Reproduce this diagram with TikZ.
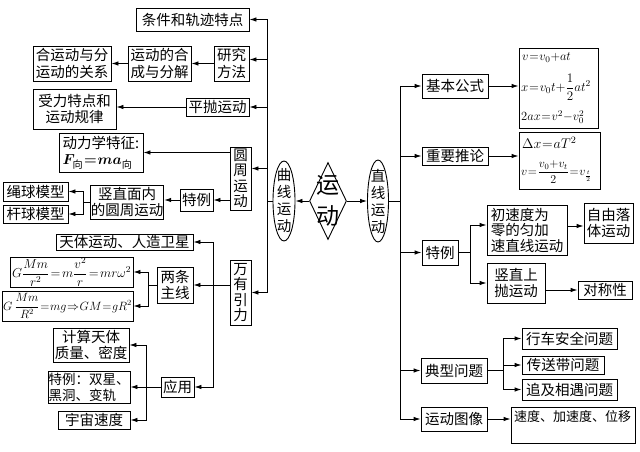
\RequirePackage{fix-cm}
\documentclass[tikz,border=0pt]{standalone}
\usepackage{amsmath,bm}
\usepackage[no-math]{fontspec}
\setmainfont{Noto Sans CJK SC}
\usetikzlibrary{shapes.geometric,arrows.meta}
\newcommand\tightmath{\thickmuskip=1mu\relax\medmuskip=0mu\relax}
\newcommand\fmlA{\fontsize{13}{15}\selectfont\thickmuskip=2mu\relax\medmuskip=1mu\relax}
\newcommand\fmlB{\fontsize{12}{14}\selectfont\thickmuskip=1mu\relax\medmuskip=0mu\relax}
\tikzset{
  box/.style={draw,line width=0.9pt,inner sep=0.5pt,align=center,font=\fontsize{14.5}{16.5}\selectfont},
  vbox/.style={font=\fontsize{14.5}{15.5}\selectfont},
  ln/.style={line width=0.9pt},
  arr/.style={ln,-{Latex[length=7pt,width=4.5pt]}},
  fml/.style={anchor=west,inner sep=0pt,font=\fontsize{12.5}{14}\selectfont\tightmath},
}
\newcommand\bx[7][]{\node[box,minimum width={#5-#3},minimum height={#6-#4},#1] (#2) at ({(#3+#5)/2},{(#4+#6)/2}) {#7};}
\begin{document}
\begin{tikzpicture}[x=1pt,y=-1pt]
\fill[white] (0,0) rectangle (640,452);
\useasboundingbox (0,0) rectangle (640,452);
% left side
\bx{cond}{136}{8}{249}{31}{条件和轨迹特点}
\bx{yjff}{214}{46}{249}{81}{研究\\方法}
\bx{hcfj}{128}{46}{191}{81}{运动的合\\成与分解}
\bx{hyd}{33}{46}{111}{81}{合运动与分\\运动的关系}
\bx{pp}{186}{98}{249}{116}{平抛运动}
\bx{slt}{33}{89}{116}{129}{受力特点和\\运动规律}
\bx[vbox]{yzyd}{230}{147}{251}{210}{圆\\周\\运\\动}
\bx[align=left]{dlx}{59}{133}{143}{172}{动力学特征:\\{\tightmath$\bm{F}_{\text{向}}\bm{=ma}_{\text{向}}$}}
\bx{tl}{180}{189}{213}{211}{特例}
\bx{szm}{91}{185}{163}{219}{竖直面内\\的圆周运动}
\bx{sq}{3}{182}{68}{201}{绳球模型}
\bx{gq}{3}{205}{68}{223}{杆球模型}
\bx[vbox]{wy}{230}{260}{251}{325}{万\\有\\引\\力}
\bx{tt}{56}{234}{193}{250}{天体运动、人造卫星}
\bx[font=\fmlA]{f1}{10}{257}{133}{287}{$G\dfrac{Mm}{r^2}=m\dfrac{v^2}{r}=mr\omega^2$}
\bx[font=\fmlB]{f2}{2}{291}{133}{321}{$G\,\dfrac{Mm}{R^2}=mg\Rightarrow GM=gR^2$}
\bx{ltzx}{157}{267}{193}{303}{两条\\主线}
\bx{yy}{161}{377}{194}{397}{应用}
\bx{js}{53}{328}{129}{362}{计算天体\\质量、密度}
\bx[align=left,font=\fontsize{13.5}{16}\selectfont]{sx}{48}{371}{130}{403}{特例：双星、\\黑洞、变轨}
\bx{yz}{58}{411}{130}{429}{宇宙速度}
% centre
\node[draw,ln,ellipse,minimum width=22pt,minimum height=80pt,inner sep=0pt] (qx) at (284,201) {};
\node[align=center,font=\fontsize{14.5}{17}\selectfont] at (qx) {曲\\线\\运\\动};
\node[draw,ln,diamond,minimum width=37pt,minimum height=77pt,inner sep=0pt] (yd) at (328,201) {};
\node[align=center,font=\fontsize{23}{31}\selectfont] at (yd) {运\\动};
\node[draw,ln,ellipse,minimum width=21pt,minimum height=82pt,inner sep=0pt] (zl) at (378,201) {};
\node[align=center,font=\fontsize{14.5}{17}\selectfont] at (zl) {直\\线\\运\\动};
% right side
\bx{jb}{422}{74}{488}{98}{基本公式}
\bx{fa}{519}{48}{598}{128}{}
\node[fml] at (522,58) {$v=v_0+at$};
\node[fml,font=\fontsize{13}{15}\selectfont\tightmath] at (521,87) {$x=v_0t+\dfrac{1}{2}at^2$};
\node[fml] at (521,117) {$2ax=v^2-v_0^2$};
\bx{zy}{422}{147}{488}{165}{重要推论}
\bx{fb}{519}{132}{600}{189}{}
\node[fml,font=\fontsize{14}{16}\selectfont\tightmath] at (522,143) {$\Delta x=aT^2$};
\node[fml,font=\fontsize{12}{14}\selectfont\tightmath] at (521,172) {$v=\dfrac{v_0+v_t}{2}=v_{\frac{t}{2}}$};
\bx{tr}{422}{240}{458}{265}{特例}
\bx[align=left,font=\fontsize{14.5}{15.5}\selectfont]{csd}{487}{205}{567}{255}{初速度为\\零的匀加\\速直线运动}
\bx{zyl}{584}{203}{633}{243}{自由落\\体运动}
\bx{szs}{487}{263}{545}{303}{竖直上\\抛运动}
\bx{dcx}{578}{281}{632}{299}{对称性}
\bx{dx}{421}{358}{487}{383}{典型问题}
\bx{xc}{522}{328}{617}{349}{行车安全问题}
\bx{csdp}{522}{356}{604}{374}{传送带问题}
\bx{zj}{522}{379}{617}{400}{追及相遇问题}
\bx{tx}{421}{407}{487}{431}{运动图像}
\bx{sd}{511}{407}{635}{443}{}
\node[anchor=north west,inner sep=0pt,font=\fontsize{13}{15}\selectfont] at (514,410) {速度、加速度、位移};
% coordinates
\coordinate (Ltop) at (267,19.5);
\coordinate (Lbot) at (267,292.5);
\coordinate (V) at (213,0);
\coordinate (B1) at (83,0);
\coordinate (B2) at (148,0);
\coordinate (B3) at (146,0);
\coordinate (R) at (400,0);
\coordinate (B4) at (470,0);
\coordinate (B5) at (503,0);
% left connectors
\draw[ln] (Ltop) -- (Lbot);
\draw[arr] (Ltop) -- (cond.east);
\draw[arr] ([yshift=4pt]yjff.east -| Ltop) -- ([yshift=4pt]yjff.east);
\draw[arr] (pp.east -| Ltop) -- (pp.east);
\draw[arr] ([yshift=10pt]yzyd.east -| Ltop) -- ([yshift=10pt]yzyd.east);
\draw[ln] (qx.west) -- (qx.west -| Ltop);
\draw[arr] (Lbot) -- (wy.east);
\draw[arr] (yjff.west) -- (hcfj.east);
\draw[arr] (hcfj.west) -- (hyd.east);
\draw[arr] (pp.west) -- (pp.west -| slt.east);
\draw[arr] (dlx.east -| yzyd.west) -- (dlx.east);
\draw[arr] (tl.east -| yzyd.west) -- (tl.east);
\draw[arr] (tl.west) -- (tl.west -| szm.east);
\draw[ln] (szm.west) -- (szm.west -| B1);
\draw[arr] (szm.west -| B1) |- (sq.east);
\draw[arr] (szm.west -| B1) |- (gq.east);
\draw[arr] (ltzx.east -| wy.west) -- (ltzx.east);
\draw[arr] (ltzx.east -| V) |- (tt.east);
\draw[arr] (ltzx.east -| V) |- (yy.east);
\draw[ln] (ltzx.west) -- (ltzx.west -| B2);
\draw[arr] (ltzx.west -| B2) |- (f1.east);
\draw[arr] (ltzx.west -| B2) |- (f2.east);
\draw[arr] (yy.west) -- (sx.east);
\draw[arr] (yy.west -| B3) |- (js.east);
\draw[arr] (yy.west -| B3) |- (yz.east);
% centre connectors
\draw[arr] (yd.west) -- (qx.east);
\draw[arr] (yd.east) -- (zl.west);
\draw[ln] (zl.east) -- (zl.east -| R);
% right connectors
\draw[ln] (jb.west -| R) -- (tx.west -| R);
\draw[arr] (jb.west -| R) -- (jb.west);
\draw[arr] (zy.west -| R) -- (zy.west);
\draw[arr] (tr.west -| R) -- (tr.west);
\draw[arr] (dx.west -| R) -- (dx.west);
\draw[arr] (tx.west -| R) -- (tx.west);
\draw[arr] (jb.east) -- (jb.east -| fa.west);
\draw[arr] (zy.east) -- (zy.east -| fb.west);
\draw[ln] (tr.east) -- (tr.east -| B4);
\draw[arr] (tr.east -| B4) |- ([yshift=5pt]csd.west);
\draw[arr] (tr.east -| B4) |- (szs.west);
\draw[arr] ([yshift=4pt]csd.east) -- ([yshift=4pt]csd.east -| zyl.west);
\draw[arr] (dcx.west -| szs.east) -- (dcx.west);
\draw[ln] (dx.east) -- (dx.east -| B5);
\draw[arr] (dx.east -| B5) |- (xc.west);
\draw[arr] (dx.east -| B5) |- (csdp.west);
\draw[arr] (dx.east -| B5) |- (zj.west);
\draw[arr] (tx.east) -- (tx.east -| sd.west);
\end{tikzpicture}
\end{document}
